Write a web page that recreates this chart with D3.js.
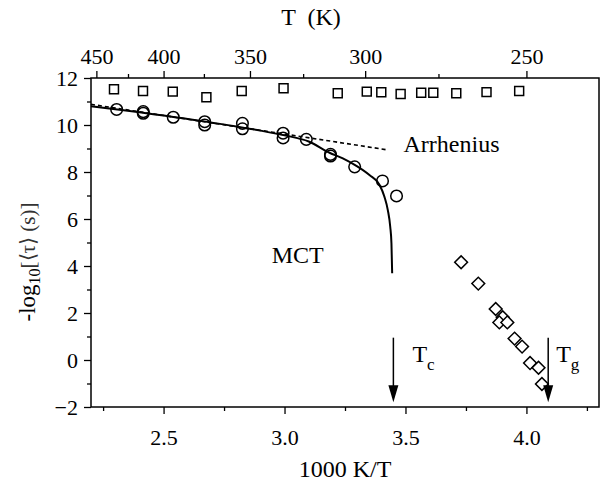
<!DOCTYPE html>
<html>
<head>
<meta charset="utf-8">
<script src="https://cdn.jsdelivr.net/npm/d3@7"></script>
<style>
  body { margin: 0; background: #fff; }
  svg text { font-family: "Liberation Serif", "Times New Roman", serif; fill: #000; }
</style>
</head>
<body>
<div id="chart"></div>
<script>
// dades llegides de la figura (1000 K/T, -log10 <tau>)
const squareX = [2.295, 2.415, 2.538, 2.677, 2.823, 2.996, 3.22, 3.34, 3.40, 3.48, 3.565, 3.615, 3.71, 3.835, 3.97];
const squareY = [11.52, 11.45, 11.42, 11.18, 11.45, 11.56, 11.35, 11.42, 11.39, 11.32, 11.37, 11.37, 11.35, 11.40, 11.45];

const circleX = [2.306, 2.416, 2.416, 2.54, 2.67, 2.67, 2.826, 2.826, 2.994, 2.994, 3.09, 3.19, 3.19, 3.29, 3.405, 3.463];
const circleY = [10.66, 10.50, 10.57, 10.33, 10.14, 10.00, 10.07, 9.84, 9.65, 9.45, 9.39, 8.75, 8.68, 8.22, 7.62, 6.98];

const diamondX = [3.730, 3.801, 3.873, 3.902, 3.888, 3.921, 3.951, 3.982, 4.015, 4.050, 4.064];
const diamondY = [4.16, 3.25, 2.17, 1.82, 1.60, 1.60, 0.91, 0.57, -0.13, -0.33, -1.02];

// corba MCT (ajust) i recta d'Arrhenius
const mctX = [2.20, 2.30, 2.40, 2.50, 2.60, 2.70, 2.80, 2.90, 3.00, 3.10, 3.186, 3.241, 3.297, 3.351, 3.393, 3.413, 3.427, 3.437, 3.442, 3.445];
const mctY = [10.80, 10.67, 10.54, 10.40, 10.26, 10.10, 9.94, 9.76, 9.56, 9.30, 8.82, 8.58, 8.26, 7.87, 7.45, 6.95, 6.38, 5.67, 4.97, 3.69];
const arrX = [2.20, 3.42];
const arrY = [10.88, 8.95];

// eixos
const bottomTicks = [2.5, 3.0, 3.5, 4.0];
const bottomMinor = [2.25, 2.75, 3.25, 3.75, 4.25];
const leftTicks = [-2, 0, 2, 4, 6, 8, 10, 12];
const leftMinor = [-1, 1, 3, 5, 7, 9, 11];
const topTicks = [450, 400, 350, 300, 250];
const topMinor = [425, 375, 325, 275];

// temperatures marcades amb fletxa
const arrowNames = ["c", "g"];
const arrowX = [3.45, 4.09];

const width = 602, height = 484;
const margin = { top: 78, right: 3, bottom: 77, left: 91 };

const svg = d3.select("#chart").append("svg")
    .attr("width", width)
    .attr("height", height);

const x = d3.scaleLinear().domain([2.2, 4.3]).range([margin.left, width - margin.right]);
const y = d3.scaleLinear().domain([-2, 12]).range([height - margin.bottom, margin.top]);

// marc
svg.append("rect")
    .attr("x", x(2.2)).attr("y", y(12))
    .attr("width", x(4.3) - x(2.2)).attr("height", y(-2) - y(12))
    .attr("fill", "none").attr("stroke", "#000").attr("stroke-width", 1.5);

function styleAxis(g) {
    g.attr("font-family", null).attr("font-size", null);
    g.select(".domain").remove();
    g.selectAll("line").attr("stroke", "#000").attr("stroke-width", 1.3);
    g.selectAll("text").style("font-size", "22px").attr("fill", "#000");
}

// eix inferior
svg.append("g").attr("transform", `translate(0,${y(-2)})`)
    .call(d3.axisBottom(x).tickValues(bottomTicks).tickFormat(d3.format(".1f")).tickSize(7).tickPadding(15))
    .call(styleAxis);
svg.append("g").attr("transform", `translate(0,${y(-2)})`)
    .call(d3.axisBottom(x).tickValues(bottomMinor).tickFormat("").tickSize(4))
    .call(styleAxis);

// eix esquerre
svg.append("g").attr("transform", `translate(${x(2.2)},0)`)
    .call(d3.axisLeft(y).tickValues(leftTicks).tickFormat(d3.format("d")).tickSize(7).tickPadding(6))
    .call(styleAxis);
svg.append("g").attr("transform", `translate(${x(2.2)},0)`)
    .call(d3.axisLeft(y).tickValues(leftMinor).tickFormat("").tickSize(4))
    .call(styleAxis);

// eix superior en temperatura
svg.append("g").attr("transform", `translate(0,${y(12)})`)
    .call(d3.axisTop(x).tickValues(topTicks.map(t => 1000 / t)).tickFormat((d, i) => topTicks[i]).tickSize(7).tickPadding(7))
    .call(styleAxis);
svg.append("g").attr("transform", `translate(0,${y(12)})`)
    .call(d3.axisTop(x).tickValues(topMinor.map(t => 1000 / t)).tickFormat("").tickSize(4))
    .call(styleAxis);

// títols dels eixos
svg.append("text").attr("x", 311).attr("y", 25).attr("text-anchor", "middle")
    .style("font-size", "24px").attr("xml:space", "preserve").text("T  (K)");
svg.append("text").attr("x", (x(2.2) + x(4.3)) / 2).attr("y", 477).attr("text-anchor", "middle")
    .style("font-size", "24px").text("1000 K/T");

const ylab = svg.append("text")
    .attr("transform", `translate(35,262) rotate(-90)`)
    .attr("text-anchor", "middle")
    .attr("xml:space", "preserve");
ylab.append("tspan").style("font-size", "23px").text("-log");
ylab.append("tspan").style("font-size", "16px").attr("dy", 5).text("10");
ylab.append("tspan").style("font-size", "21px").attr("dy", -5).attr("fill", "#333").text("[\u27E8\u03C4\u27E9 (s)]");

// recta d'Arrhenius (discontínua)
const line = d3.line().x(d => x(d[0])).y(d => y(d[1]));
svg.append("path")
    .datum(d3.zip(arrX, arrY))
    .attr("d", line)
    .attr("fill", "none").attr("stroke", "#000").attr("stroke-width", 1.6)
    .attr("stroke-dasharray", "4,3");

// corba MCT
svg.append("path")
    .datum(d3.zip(mctX, mctY))
    .attr("d", line.curve(d3.curveMonotoneX))
    .attr("fill", "none").attr("stroke", "#000").attr("stroke-width", 2);

// quadrats
svg.append("g").selectAll("path").data(d3.zip(squareX, squareY)).join("path")
    .attr("transform", d => `translate(${x(d[0])},${y(d[1])})`)
    .attr("d", d3.symbol(d3.symbolSquare, 80))
    .attr("fill", "none").attr("stroke", "#000").attr("stroke-width", 1.5);

// cercles
svg.append("g").selectAll("circle").data(d3.zip(circleX, circleY)).join("circle")
    .attr("cx", d => x(d[0])).attr("cy", d => y(d[1])).attr("r", 5.8)
    .attr("fill", "none").attr("stroke", "#000").attr("stroke-width", 1.5);

// rombes
svg.append("g").selectAll("path").data(d3.zip(diamondX, diamondY)).join("path")
    .attr("transform", d => `translate(${x(d[0])},${y(d[1])}) rotate(45)`)
    .attr("d", d3.symbol(d3.symbolSquare, 82))
    .attr("fill", "#fff").attr("stroke", "#000").attr("stroke-width", 1.5);

// fletxes Tc i Tg
const labelDx = [19, 8];
arrowX.forEach((ax, i) => {
    const px = x(ax), y0 = y(0.95), y1 = y(-1.8);
    svg.append("line").attr("x1", px).attr("x2", px).attr("y1", y0).attr("y2", y1 - 14)
        .attr("stroke", "#000").attr("stroke-width", 1.5);
    svg.append("path")
        .attr("d", `M${px - 5},${y1 - 17} L${px + 5},${y1 - 17} L${px},${y1} Z`)
        .attr("fill", "#000");
    const t = svg.append("text").attr("x", px + labelDx[i]).attr("y", y(-0.1)).style("font-size", "24px");
    t.append("tspan").text("T");
    t.append("tspan").attr("dy", 8).style("font-size", "17px").text(arrowNames[i]);
});

// etiquetes de les corbes
svg.append("text").attr("x", x(3.492)).attr("y", y(8.85)).style("font-size", "24px").text("Arrhenius");
svg.append("text").attr("x", x(2.947)).attr("y", y(4.13)).style("font-size", "24px").text("MCT");
</script>
</body>
</html>
